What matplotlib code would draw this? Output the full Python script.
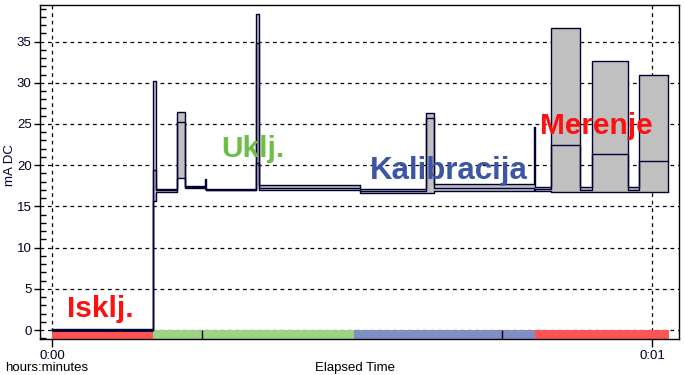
import matplotlib
matplotlib.use("Agg")
from matplotlib import pyplot as plt
from matplotlib.ticker import MultipleLocator, FixedLocator
import numpy as np

plt.rcParams['font.family'] = ['Liberation Sans', 'DejaVu Sans']

# segment edges in seconds of elapsed time, and min / avg / max of each segment (mA DC)
seg_edges = [0.0, 10.1, 10.37, 12.53, 13.3, 15.3, 15.4, 20.37, 20.73, 30.83,
             37.43, 38.23, 48.23, 48.33, 49.9, 52.8, 54.0, 57.63, 58.73, 61.63]
seg_min = [0.0, 15.6, 16.8, 18.4, 17.2, 17.1, 17.0, 20.3, 17.0, 16.6,
           16.6, 16.9, 17.0, 16.9, 16.7, 16.8, 16.7, 16.8, 16.7]
seg_avg = [0.05, 19.4, 16.95, 25.3, 17.3, 17.2, 17.05, 34.8, 17.2, 16.9,
           25.7, 17.2, 17.1, 17.1, 22.5, 17.0, 21.3, 17.0, 20.5]
seg_max = [0.15, 30.2, 17.1, 26.4, 17.5, 18.3, 17.15, 38.4, 17.6, 17.1,
           26.3, 17.7, 24.6, 17.3, 36.6, 17.3, 32.6, 17.3, 30.9]

# phase strip along the bottom
phase_edges = [0.0, 10.1, 30.2, 48.3, 61.7]
phase_colors = ['#FF5555', '#9CD486', '#7F8FC4', '#FF5555']
phase_marks = [15.0, 45.0]

labels = ['Isklj.', 'Uklj.', 'Kalibracija', 'Merenje']
label_colors = ['#FF1010', '#6DBE45', '#3C55A5', '#FF1010']
label_pos = [(4.8, 1.6), (16.9, 21.0), (31.8, 18.3), (48.8, 23.75)]
label_ha = ['center', 'left', 'left', 'left']
label_size = [21.5, 21.5, 22.5, 21.5]

navy = '#000033'
ymin, ymax = -1.09, 39.44

fig = plt.figure(figsize=(6.85, 3.75), dpi=100)
ax = fig.add_axes([40 / 685, 36 / 375, 639 / 685, 334 / 375])
ax.set_xlim(-1.2, 62.7)
ax.set_ylim(ymin, ymax)
ax.set_axisbelow(True)

# strip
for i in range(len(phase_colors)):
    ax.bar(phase_edges[i], 0 - ymin, width=phase_edges[i + 1] - phase_edges[i],
           bottom=ymin, align='edge', color=phase_colors[i], lw=0, zorder=1)
ax.vlines(phase_marks, ymin, 0, color='black', lw=1, zorder=2)

# min/max boxes
x = np.array(seg_edges)
lo = np.append(seg_min, seg_min[-1])
hi = np.append(seg_max, seg_max[-1])
av = np.append(seg_avg, seg_avg[-1])
ax.fill_between(x, lo, hi, step='post', color='#C0C0C0', lw=0, zorder=3)
ax.step(x, lo, where='post', color=navy, lw=1.0, zorder=4)
ax.step(x, hi, where='post', color=navy, lw=1.0, zorder=4)
ax.step(x, av, where='post', color=navy, lw=1.0, zorder=4)
ax.vlines(x[0], lo[0], hi[0], color=navy, lw=1.0, zorder=4)
ax.vlines(x[-1], seg_min[-1], seg_max[-1], color=navy, lw=1.0, zorder=4)
# zero line in the off phase is drawn heavier
ax.hlines(seg_avg[0], x[0], x[1], color=navy, lw=2.0, zorder=4)

for txt, c, (tx, ty), ha, fs in zip(labels, label_colors, label_pos, label_ha, label_size):
    ax.text(tx, ty, txt, color=c, fontsize=fs, fontweight='bold', ha=ha,
            va='baseline', zorder=6)

# axes styling
ax.yaxis.set_major_locator(MultipleLocator(5))
ax.yaxis.set_minor_locator(MultipleLocator(1))
ax.xaxis.set_major_locator(FixedLocator([0, 60]))
ax.set_xticklabels(['0:00', '0:01'])
ax.tick_params(axis='y', which='major', direction='out', length=4, width=1,
               labelsize=9.5, labelcolor='#000022', pad=2)
ax.tick_params(axis='y', which='minor', direction='in', length=4, width=1)
ax.tick_params(axis='x', which='major', direction='out', length=6, width=1,
               labelsize=9.5, labelcolor='#000022', pad=2)
ax.grid(True, which='major', color='black', ls=(0, (3, 3)), lw=0.9)
for s in ax.spines.values():
    s.set_linewidth(1.0)
    s.set_color('black')

ax.set_ylabel('mA DC', fontsize=9.5, color='#000033')
ax.yaxis.set_label_coords(-0.037, 0.52)
fig.text(5 / 685, 1 - 368 / 375, 'hours:minutes', fontsize=9.5, va='center', ha='left')
fig.text(355 / 685, 1 - 368 / 375, 'Elapsed Time', fontsize=9.5, va='center', ha='center')

fig.savefig('out.png', dpi=100)
